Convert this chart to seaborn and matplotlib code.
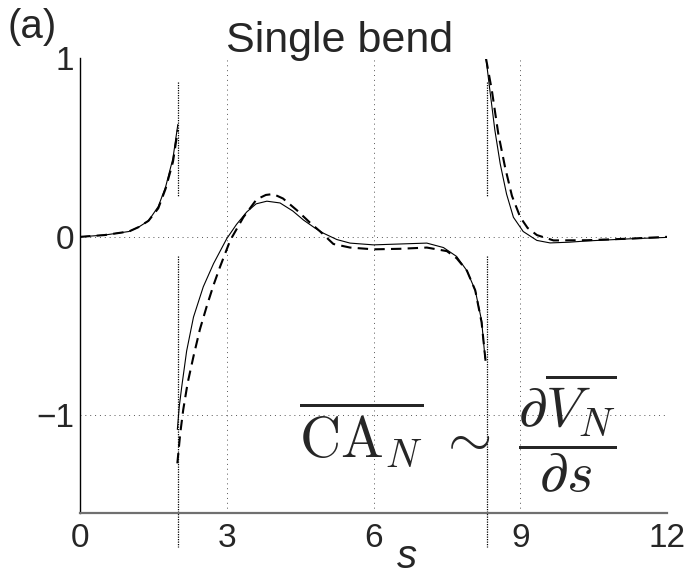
import numpy as np
import pandas as pd
import matplotlib
matplotlib.use("Agg")
import matplotlib.pyplot as plt
import seaborn as sns

# curve values (s, CA_N)
s_up_solid = [0.0, 0.5, 1.0, 1.2, 1.4, 1.6, 1.75, 1.9, 2.0]
v_up_solid = [0.0, 0.01, 0.03, 0.055, 0.09, 0.17, 0.28, 0.44, 0.63]
s_up_dash = [0.0, 0.5, 1.0, 1.2, 1.4, 1.6, 1.75, 1.9, 2.0]
v_up_dash = [0.0, 0.01, 0.03, 0.055, 0.09, 0.16, 0.27, 0.42, 0.60]

s_bend_solid = [1.99, 2.03, 2.08, 2.18, 2.32, 2.52, 2.73, 3.0, 3.2, 3.41, 3.6, 3.82,
                4.09, 4.35, 4.57, 4.8, 4.98, 5.25, 5.52, 6.0, 6.54, 7.09, 7.43, 7.7,
                7.91, 8.08, 8.21, 8.28]
v_bend_solid = [-1.08, -0.95, -0.84, -0.64, -0.45, -0.28, -0.15, -0.01, 0.07, 0.14, 0.185, 0.20,
                0.19, 0.145, 0.094, 0.05, 0.02, -0.015, -0.035, -0.045, -0.04, -0.035, -0.06, -0.11,
                -0.19, -0.30, -0.47, -0.68]
s_bend_dash = [1.99, 2.05, 2.11, 2.2, 2.32, 2.45, 2.59, 2.73, 2.86, 3.07, 3.34, 3.61,
               3.8, 3.95, 4.15, 4.43, 4.7, 4.91, 5.18, 5.52, 6.0, 6.54, 7.09, 7.5,
               7.7, 7.91, 8.08, 8.21, 8.3]
v_bend_dash = [-1.27, -1.1, -0.97, -0.82, -0.67, -0.52, -0.39, -0.27, -0.17, -0.02, 0.11, 0.21,
               0.235, 0.24, 0.215, 0.15, 0.08, 0.03, -0.04, -0.06, -0.07, -0.067, -0.06, -0.08,
               -0.12, -0.19, -0.30, -0.48, -0.72]

s_down_solid = [8.3, 8.38, 8.48, 8.59, 8.72, 8.86, 9.06, 9.34, 9.61, 10.0, 10.36, 11.24, 12.0]
v_down_solid = [1.0, 0.82, 0.60, 0.41, 0.24, 0.11, 0.03, -0.02, -0.034, -0.03, -0.023, -0.011, -0.003]
s_down_dash = [8.3, 8.42, 8.55, 8.69, 8.83, 9.0, 9.15, 9.34, 9.68, 10.36, 11.24, 12.0]
v_down_dash = [1.0, 0.82, 0.58, 0.39, 0.23, 0.11, 0.05, 0.01, -0.02, -0.019, -0.01, 0.0]

# bend start / end markers
bend_edges = [2.0, 8.32]
marker_upper = [0.87, 0.224]
marker_lower = [-0.11, -1.74]

xticks = [0, 3, 6, 9, 12]
yticks = [-1, 0, 1]

sns.set_style("white")
plt.rcParams["font.family"] = ["Liberation Sans", "DejaVu Sans"]
plt.rcParams["mathtext.fontset"] = "cm"

fig = plt.figure(figsize=(6.87, 5.77), dpi=100)
ax = fig.add_axes([80 / 687, 1 - 513.3 / 577, 587 / 687, (513.3 - 58.5) / 577])

solid_kw = dict(color="black", lw=0.8, estimator=None, sort=False, ax=ax)
dash_kw = dict(color="black", lw=1.5, estimator=None, sort=False, ax=ax,
               linestyle=(0, (5, 3)))

for xs, ys in [(s_up_solid, v_up_solid), (s_bend_solid, v_bend_solid),
               (s_down_solid, v_down_solid)]:
    sns.lineplot(x=xs, y=ys, **solid_kw)
for xs, ys in [(s_up_dash, v_up_dash), (s_bend_dash, v_bend_dash),
               (s_down_dash, v_down_dash)]:
    sns.lineplot(x=xs, y=ys, **dash_kw)

for e in bend_edges:
    ax.plot([e, e], marker_upper, color="black", lw=0.9, ls=(0, (1, 1)), clip_on=False)
    ax.plot([e, e], marker_lower, color="black", lw=0.9, ls=(0, (1, 1)), clip_on=False)

ax.set_xlim(0, 12)
ax.set_ylim(-1.55, 1)
ax.set_xticks(xticks)
ax.set_yticks(yticks)
ax.grid(True, color="#555555", lw=0.7, ls=(0, (1, 4)))
ax.tick_params(direction="in", length=5, width=1, labelsize=24, pad=7)
ax.tick_params(axis="y", pad=4)
sns.despine(ax=ax)
ax.spines["left"].set_color("black")
ax.spines["left"].set_linewidth(1.0)
ax.spines["bottom"].set_color("#707070")
ax.spines["bottom"].set_linewidth(1.6)
ax.set_xlabel("")
ax.set_ylabel("")

fig.text(340 / 687, 1 - 52 / 577, "Single bend", fontsize=31, ha="center", va="baseline")
fig.text(8 / 687, 1 - 38 / 577, "(a)", fontsize=29, ha="left", va="baseline")
fig.text(407 / 687, 0.002, "s", fontsize=29, style="italic", ha="center", va="bottom")
fig.text(457.5 / 687, 1 - 433 / 577,
         r"$\overline{\mathrm{CA}_N}\ \sim\ \dfrac{\partial\overline{V_N}}{\partial s}$",
         fontsize=41, ha="center", va="center")

fig.savefig("out.png", dpi=100)
